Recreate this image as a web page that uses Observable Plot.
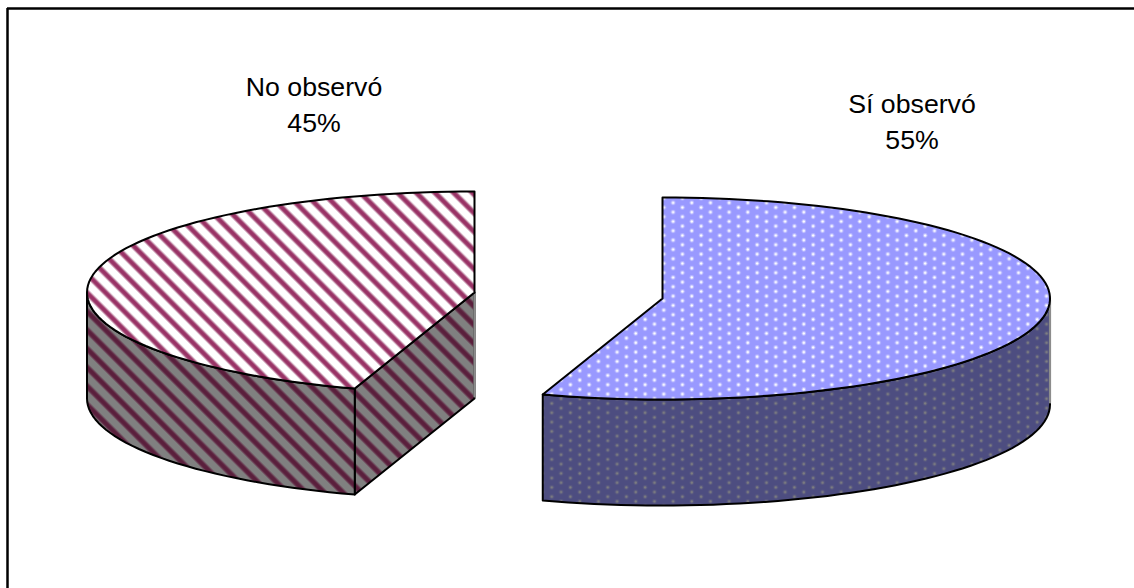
<!DOCTYPE html>
<html lang="es">
<head>
<meta charset="utf-8">
<title>Observó / No observó</title>
<script src="https://cdn.jsdelivr.net/npm/d3@7"></script>
<script src="https://cdn.jsdelivr.net/npm/@observablehq/plot@0.6"></script>
<style>
  html, body { margin: 0; padding: 0; background: #fff; }
  svg { display: block; }
</style>
</head>
<body>
<div id="chart"></div>
<script>
// Chart values
const categories = ["No observó", "Sí observó"];
const shares = [45, 55];

// Pie layout, in chart units
const rx = 387.5, ry = 101, depth = 106;
const centers = [[474, 292], [662, 298]];
const labelAt = [[313.5, 102.3], [911.5, 119.3]];

const W = 1134, H = 588;

// Rim of the tilted disc between two bearings (degrees clockwise from twelve o'clock)
function rim([cx, cy], from, to, drop = 0) {
  const n = Math.max(2, Math.ceil(Math.abs(to - from) / 2));
  return d3.range(n + 1).map((i) => {
    const a = ((from + (to - from) * i / n) * Math.PI) / 180;
    return {x: cx + rx * Math.sin(a), y: cy - ry * Math.cos(a) + drop};
  });
}
const closed = (pts) => [...pts, pts[0]];
const sweep = (share) => (share / d3.sum(shares)) * 360;

const noSweep = sweep(shares[0]);
const siSweep = sweep(shares[1]);
const [cNo, cSi] = centers;

// "No observó" runs counter-clockwise from twelve o'clock, "Sí observó" clockwise
const noTop = closed([{x: cNo[0], y: cNo[1]}, ...rim(cNo, 0, -noSweep)]);
const noWall = closed([...rim(cNo, -90, -noSweep), ...rim(cNo, -noSweep, -90, depth)]);
const noEnd = rim(cNo, -noSweep, -noSweep)[0];
const noCut = closed([
  {x: noEnd.x, y: noEnd.y},
  {x: cNo[0], y: cNo[1]},
  {x: cNo[0], y: cNo[1] + depth},
  {x: noEnd.x, y: noEnd.y + depth}
]);
const siTop = closed([{x: cSi[0], y: cSi[1]}, ...rim(cSi, 0, siSweep)]);
const siWall = closed([...rim(cSi, 90, siSweep), ...rim(cSi, siSweep, 90, depth)]);

// The far vertical edges of the walls are drawn in grey, not black
const noCutEdge = [{x: cNo[0], y: cNo[1] + 2}, {x: cNo[0], y: cNo[1] + depth - 2}];
const siWallEdge = [{x: cSi[0] + rx, y: cSi[1] + 2}, {x: cSi[0] + rx, y: cSi[1] + depth - 2}];

const outline = {x: "x", y: "y", stroke: "#000", strokeWidth: 2, strokeLinejoin: "round"};
const face = (pts, fill) => Plot.line(pts, {...outline, fill});
const edge = (pts) => Plot.line(pts, {x: "x", y: "y", stroke: "#8c8c8c", strokeWidth: 2.2});

const labels = categories.map((c, i) => ({
  text: `${c}\n${shares[i]}%`,
  x: labelAt[i][0],
  y: labelAt[i][1]
}));

const chart = Plot.plot({
  width: W,
  height: H,
  margin: 0,
  x: {domain: [0, W], range: [0, W], axis: null},
  y: {domain: [0, H], range: [0, H], axis: null},
  style: {background: "#fff"},
  marks: [
    Plot.ruleY([8], {x1: 7, x2: W, stroke: "#000", strokeWidth: 2.5}),
    Plot.ruleX([7], {y1: 8, y2: H, stroke: "#000", strokeWidth: 2.5}),
    face(noCut, "url(#stripes-dark)"),
    edge(noCutEdge),
    face(noWall, "url(#stripes-dark)"),
    face(noTop, "url(#stripes-light)"),
    face(siWall, "url(#dots-dark)"),
    edge(siWallEdge),
    face(siTop, "url(#dots-light)"),
    Plot.text(labels, {
      x: "x",
      y: "y",
      text: "text",
      fontSize: 26.7,
      lineHeight: 1.337,
      fontFamily: "'Liberation Sans', Arial, sans-serif",
      fill: "#000"
    })
  ]
});

// Fill patterns for the slices: top faces in full colour, walls in their shaded tone
const defs = d3.select(chart).insert("defs", ":first-child");

function stripes(id, paper, band, soft) {
  const size = 13.2;
  const p = defs.append("pattern")
    .attr("id", id)
    .attr("patternUnits", "userSpaceOnUse")
    .attr("width", size)
    .attr("height", size)
    .attr("patternTransform", "translate(13.8 0) rotate(-45)");
  p.append("rect").attr("width", size).attr("height", size).attr("fill", paper);
  p.append("rect").attr("x", 0.2).attr("width", 6).attr("height", size).attr("fill", soft);
  p.append("rect").attr("x", 1.2).attr("width", 4).attr("height", size).attr("fill", band);
}

function dots(id, paper, halo, core) {
  const w = 18.67, h = 9.33;
  const p = defs.append("pattern")
    .attr("id", id)
    .attr("patternUnits", "userSpaceOnUse")
    .attr("width", w)
    .attr("height", h)
    .attr("patternTransform", "translate(-4.17 4.07)");
  p.append("rect").attr("width", w).attr("height", h).attr("fill", paper);
  for (const [x, y] of [[4.67, 2.33], [14, 7]]) {
    p.append("circle").attr("cx", x).attr("cy", y).attr("r", 2.3).attr("fill", halo);
    p.append("circle").attr("cx", x).attr("cy", y).attr("r", 1.2).attr("fill", core);
  }
}

stripes("stripes-light", "#fff", "#993366", "#c99ab1");
stripes("stripes-dark", "#808080", "#5a1f3c", "#6d4358");
dots("dots-light", "#9999ff", "#bdbdff", "#ffffff");
dots("dots-dark", "#4d4d80", "#595980", "#808080");

document.getElementById("chart").append(chart);
</script>
</body>
</html>
